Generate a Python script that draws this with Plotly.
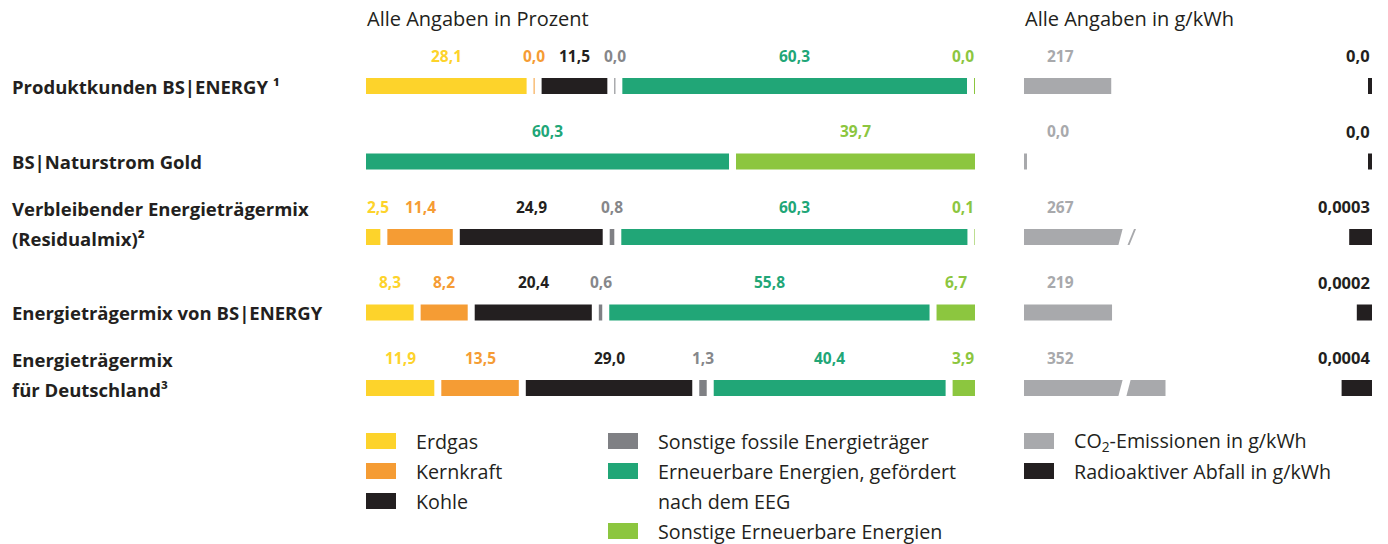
import plotly.graph_objects as go

# ---------------- data ----------------
row_labels = [
    ["Produktkunden BS|ENERGY ¹"],
    ["BS|Naturstrom Gold"],
    ["Verbleibender Energieträgermix", "(Residualmix)²"],
    ["Energieträgermix von BS|ENERGY"],
    ["Energieträgermix", "für Deutschland³"],
]

categories = [
    "Erdgas",
    "Kernkraft",
    "Kohle",
    "Sonstige fossile Energieträger",
    "Erneuerbare Energien, gefördert<br>nach dem EEG",
    "Sonstige Erneuerbare Energien",
]
erdgas = [28.1, None, 2.5, 8.3, 11.9]
kernkraft = [0.0, None, 11.4, 8.2, 13.5]
kohle = [11.5, None, 24.9, 20.4, 29.0]
sonstige_fossile = [0.0, None, 0.8, 0.6, 1.3]
eeg = [60.3, 60.3, 60.3, 55.8, 40.4]
sonstige_ee = [0.0, 39.7, 0.1, 6.7, 3.9]

co2 = [217, 0.0, 267, 219, 352]
radioaktiv = [0.0, 0.0, 0.0003, 0.0002, 0.0004]

header_left = "Alle Angaben in Prozent"
header_right = "Alle Angaben in g/kWh"
co2_label = "CO<sub>2</sub>-Emissionen in g/kWh"
radio_label = "Radioaktiver Abfall in g/kWh"

# ---------------- style ----------------
W, H = 1388, 544
FONT = "Open Sans"
DARK = "#231f20"
colors = ["#fdd32b", "#f59c34", "#231f20", "#7f8084", "#21a677", "#8cc63f"]
label_colors = ["#fdd32b", "#f59c34", "#231f20", "#86878a", "#21a677", "#8cc63f"]
CO2_COLOR = "#a8a9ac"
RADIO_COLOR = "#231f20"

P_LEFT, P_RIGHT = 366, 975
P_W = P_RIGHT - P_LEFT
GAP = 7.0
MIN_W = 1.0

ROW0_PX = 86.0
ROW_PX = 75.5
BAR_PX = 16.0
BAR_H = BAR_PX / ROW_PX

CO2_LEFT, CO2_RIGHT = 1024, 1200
CO2_SCALE = 0.402  # px per g/kWh
CO2_MIN_PX = 3.0
RAD_LEFT, RAD_RIGHT = 1290, 1372
RAD_SCALE = 76000.0  # px per g/kWh
RAD_MIN_PX = 4.0

VAL_SIZE = 15.5
ROW_SIZE = 18.5
HEAD_SIZE = 20
LEG_SIZE = 19.7


def fmt1(v):
    return f"{v:.1f}".replace(".", ",")


def py(px):
    return 1 - px / H


series = [erdgas, kernkraft, kohle, sonstige_fossile, eeg, sonstige_ee]
nrows = len(row_labels)

# compute segment layout per row (panel px units)
bases = [[None] * nrows for _ in series]
widths = [[None] * nrows for _ in series]
for r in range(nrows):
    present = [(k, s[r]) for k, s in enumerate(series) if s[r] is not None]
    total = sum(v for _, v in present)
    nz = sum(1 for _, v in present if v == 0)
    scale = (P_W - GAP * (len(present) - 1) - nz * MIN_W) / total
    cur = 0.0
    for k, v in present:
        w = max(v * scale, MIN_W)
        bases[k][r] = cur
        widths[k][r] = w
        cur += w + GAP

fig = go.Figure()
rows_idx = list(range(nrows))

for k, cat in enumerate(categories):
    fig.add_trace(go.Bar(
        x=widths[k], base=bases[k], y=rows_idx, orientation="h",
        marker=dict(color=colors[k], line=dict(width=0)),
        width=BAR_H, name=cat, xaxis="x", yaxis="y", hoverinfo="skip",
        showlegend=False,
    ))

co2_w = [max(v, CO2_MIN_PX / CO2_SCALE) for v in co2]
fig.add_trace(go.Bar(
    x=co2_w, y=rows_idx, orientation="h", width=BAR_H,
    marker=dict(color=CO2_COLOR, line=dict(width=0)),
    xaxis="x2", yaxis="y", hoverinfo="skip", showlegend=False,
))
rad_w = [max(v, RAD_MIN_PX / RAD_SCALE) for v in radioaktiv]
fig.add_trace(go.Bar(
    x=rad_w, y=rows_idx, orientation="h", width=BAR_H,
    marker=dict(color=RADIO_COLOR, line=dict(width=0)),
    xaxis="x3", yaxis="y", hoverinfo="skip", showlegend=False,
))

annotations = []
shapes = []

# value labels for percent panel
LABEL_DY = 30.5 / ROW_PX
for k, s in enumerate(series):
    for r in range(nrows):
        v = s[r]
        if v is None:
            continue
        txt = fmt1(v)
        tw = sum(4.4 if c == "," else 9.0 for c in txt)
        hw = tw / 2 + 0.5
        c = bases[k][r] + widths[k][r] / 2
        c = min(max(c, hw), P_W - hw)
        annotations.append(dict(
            x=c, y=r - LABEL_DY, xref="x", yref="y", text=f"<b>{txt}</b>",
            showarrow=False, xanchor="center", yanchor="middle",
            font=dict(family=FONT, size=VAL_SIZE, color=label_colors[k]),
        ))

# CO2 and radioactive labels
for r in range(nrows):
    v = co2[r]
    txt = "0,0" if v == 0 else str(int(v))
    annotations.append(dict(
        x=1045 / W, y=r - LABEL_DY, xref="paper", yref="y", text=f"<b>{txt}</b>",
        showarrow=False, xanchor="left", yanchor="middle",
        font=dict(family=FONT, size=15.5, color=CO2_COLOR),
    ))
    v = radioaktiv[r]
    txt = "0,0" if v == 0 else f"{v:.4f}".replace(".", ",")
    annotations.append(dict(
        x=RAD_RIGHT / W, y=r - LABEL_DY, xref="paper", yref="y", text=f"<b>{txt}</b>",
        showarrow=False, xanchor="right", yanchor="middle",
        font=dict(family=FONT, size=16.5, color=DARK),
    ))

# row labels
for r, lines in enumerate(row_labels):
    if len(lines) == 1:
        ys = [r]
    else:
        ys = [r - 29.5 / ROW_PX + 1 / ROW_PX, r + 1 / ROW_PX]
    for t, yy in zip(lines, ys):
        annotations.append(dict(
            x=10 / W, y=yy, xref="paper", yref="y", text=f"<b>{t}</b>",
            showarrow=False, xanchor="left", yanchor="middle",
            font=dict(family=FONT, size=ROW_SIZE, color=DARK),
        ))

# headers
for txt, xpx in [(header_left, P_LEFT), (header_right, CO2_LEFT)]:
    annotations.append(dict(
        x=(xpx - 1) / W, y=py(19), xref="paper", yref="paper", text=txt,
        showarrow=False, xanchor="left", yanchor="middle",
        font=dict(family=FONT, size=HEAD_SIZE, color=DARK),
    ))

# CO2 axis breaks (white slanted gap) for long bars
BRK_BL, BRK_BR, SLANT = 1118, 1126, 5  # px
u = lambda px: (px - CO2_LEFT) / CO2_SCALE
for r, v in enumerate(co2):
    end_px = CO2_LEFT + v * CO2_SCALE
    if end_px <= BRK_BL:
        continue
    yb = r + BAR_H / 2 + 0.02
    yt = r - BAR_H / 2 - 0.02
    shapes.append(dict(
        type="path", xref="x2", yref="y", layer="above",
        path=f"M {u(BRK_BL)},{yb} L {u(BRK_BR)},{yb} L {u(BRK_BR + SLANT)},{yt} L {u(BRK_BL + SLANT)},{yt} Z",
        fillcolor="white", line=dict(width=0),
    ))
    if end_px - BRK_BR < 12:
        # short remainder -> drawn as a slash mark
        shapes.append(dict(
            type="rect", xref="x2", yref="y", layer="above",
            x0=u(BRK_BR - 0.5), x1=u(end_px + 6), y0=yt, y1=yb,
            fillcolor="white", line=dict(width=0),
        ))
        shapes.append(dict(
            type="path", xref="x2", yref="y", layer="above",
            path=f"M {u(BRK_BR + 1.5)},{r + BAR_H / 2} L {u(BRK_BR + 3.5)},{r + BAR_H / 2} "
                 f"L {u(BRK_BR + 3.5 + SLANT + 1.5)},{r - BAR_H / 2} L {u(BRK_BR + 1.5 + SLANT + 1.5)},{r - BAR_H / 2} Z",
            fillcolor=CO2_COLOR, line=dict(width=0),
        ))

# legend (custom, three columns)
legend_items = [
    (categories[0], colors[0], 366, 0),
    (categories[1], colors[1], 366, 1),
    (categories[2], colors[2], 366, 2),
    (categories[3], colors[3], 608, 0),
    (categories[4], colors[4], 608, 1),
    (categories[5], colors[5], 608, 3),
    (co2_label, CO2_COLOR, 1024, 0),
    (radio_label, RADIO_COLOR, 1024, 1),
]
LEG_Y0, LEG_DY = 441, 30
for text, col, xpx, slot in legend_items:
    yc = LEG_Y0 + slot * LEG_DY
    shapes.append(dict(
        type="rect", xref="paper", yref="paper",
        x0=xpx / W, x1=(xpx + 30) / W, y0=py(yc + 8), y1=py(yc - 8),
        fillcolor=col, line=dict(width=0),
    ))
    for j, line in enumerate(text.split("<br>")):
        annotations.append(dict(
            x=(xpx + 48) / W, y=py(yc + j * LEG_DY), xref="paper", yref="paper",
            text=line, showarrow=False, xanchor="left", yanchor="middle",
            font=dict(family=FONT, size=LEG_SIZE, color=DARK),
        ))

ax_common = dict(visible=False, showgrid=False, zeroline=False, fixedrange=True)
fig.update_layout(
    width=W, height=H, autosize=False,
    margin=dict(l=0, r=0, t=0, b=0, pad=0),
    paper_bgcolor="white", plot_bgcolor="white",
    barmode="overlay", showlegend=False,
    font=dict(family=FONT, color=DARK),
    xaxis=dict(domain=[P_LEFT / W, P_RIGHT / W], range=[0, P_W], **ax_common),
    xaxis2=dict(domain=[CO2_LEFT / W, CO2_RIGHT / W],
                range=[0, (CO2_RIGHT - CO2_LEFT) / CO2_SCALE], anchor="y", **ax_common),
    xaxis3=dict(domain=[RAD_LEFT / W, RAD_RIGHT / W],
                range=[(RAD_RIGHT - RAD_LEFT) / RAD_SCALE, 0], anchor="y", **ax_common),
    yaxis=dict(domain=[0, 1], range=[(H - ROW0_PX) / ROW_PX, -ROW0_PX / ROW_PX], **ax_common),
    annotations=annotations,
    shapes=shapes,
)

fig.write_html(
    "out.html",
    config={"displayModeBar": False, "staticPlot": True},
    post_script="document.body.style.margin='0';document.body.style.overflow='hidden';",
)
